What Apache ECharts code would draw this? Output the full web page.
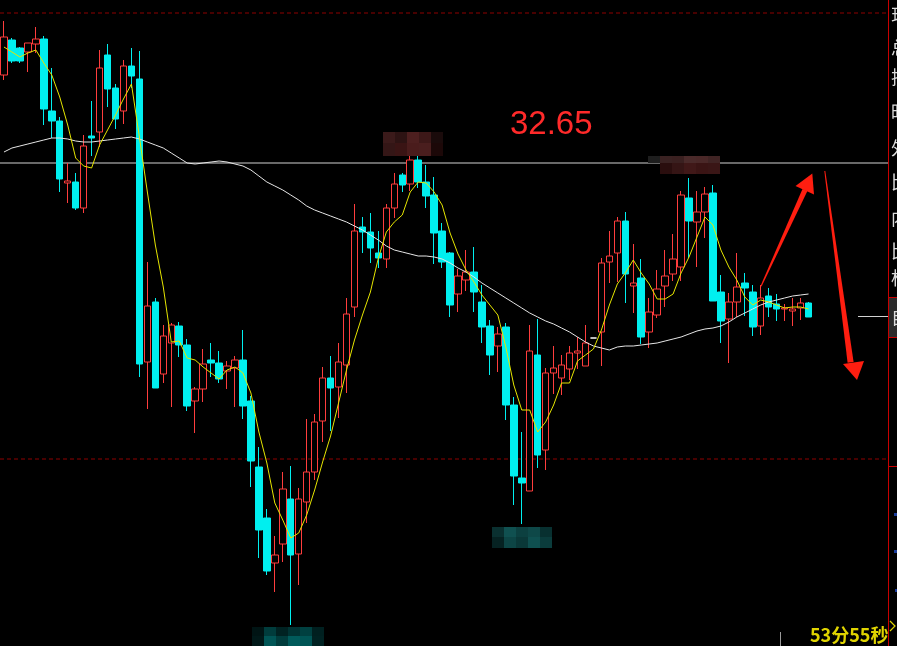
<!DOCTYPE html>
<html>
<head>
<meta charset="utf-8">
<style>
  html, body { margin: 0; padding: 0; background: #000; }
  #chart { width: 897px; height: 646px; }
</style>
<script src="https://cdn.jsdelivr.net/npm/echarts@6/dist/echarts.min.js"></script>
</head>
<body>
<div id="chart"></div>
<script>
// K-line bars: [open, close, low, high]
const candles = [
  [33.53,33.91,33.48,34.07],[33.88,33.67,33.65,33.90],[33.80,33.67,33.65,33.81],[33.76,33.85,33.56,33.85],
  [33.84,33.89,33.75,34.01],[33.89,33.19,33.03,33.92],[33.17,33.07,32.90,33.60],[33.07,32.49,32.36,33.11],
  [32.45,32.47,32.25,32.65],[32.46,32.20,32.18,32.55],[32.20,32.82,32.15,32.93],[32.92,32.90,32.72,33.27],
  [32.96,33.60,32.81,33.78],[33.73,33.39,33.21,33.84],[33.40,33.09,32.99,33.44],[33.17,33.62,33.04,33.68],
  [33.62,33.52,33.40,33.80],[33.49,30.64,30.51,33.77],[30.66,31.22,30.19,31.66],[31.26,30.40,30.40,31.30],
  [30.54,30.92,30.45,31.03],[30.85,31.03,30.21,31.05],[31.02,30.83,30.71,31.06],[30.83,30.22,30.17,30.89],
  [30.27,30.39,29.95,30.41],[30.39,30.64,30.26,30.79],[30.68,30.65,30.51,30.85],[30.65,30.49,30.45,30.77],
  [30.57,30.62,30.39,30.67],[30.60,30.68,30.21,30.72],[30.68,30.22,30.09,30.98],[30.27,29.67,29.41,30.32],
  [29.61,28.98,28.70,29.81],[29.10,28.57,28.53,29.19],[28.65,28.73,28.36,28.92],[28.84,29.39,28.66,29.56],
  [29.29,28.73,28.03,29.62],[28.74,29.29,28.43,29.40],[29.26,29.56,29.05,30.09],[29.56,30.06,29.48,30.14],
  [30.07,30.50,29.86,30.61],[30.50,30.40,29.97,30.72],[30.41,30.66,30.10,30.85],[30.63,31.14,30.35,31.30],
  [31.21,31.97,31.11,32.24],[32.01,31.96,31.75,32.11],[31.96,31.80,31.65,32.15],[31.75,31.70,31.60,31.97],
  [31.69,32.20,31.60,32.24],[32.20,32.44,32.10,32.55],[32.53,32.43,32.36,32.55],[32.44,32.68,32.37,32.72],
  [32.68,32.46,32.40,32.72],[32.46,32.32,32.20,32.63],[32.33,31.95,31.64,32.51],[31.97,31.66,31.60,32.05],
  [31.75,31.23,31.11,31.76],[31.34,31.52,31.16,31.59],[31.48,31.56,31.37,31.78],[31.56,31.36,31.16,31.81],
  [31.26,31.01,30.85,31.43],[31.02,30.73,30.53,31.08],[30.82,30.94,30.56,31.01],[31.01,30.23,30.08,31.05],
  [30.23,29.52,29.23,30.31],[29.50,29.45,29.04,29.96],[29.37,30.77,29.37,31.03],[30.73,29.73,29.60,31.09],
  [29.78,30.55,29.58,30.60],[30.55,30.60,30.34,30.82],[30.50,30.63,30.33,30.73],[30.59,30.75,30.48,30.82],
  [30.75,30.77,30.59,30.91],[30.62,30.85,30.62,31.03],[30.90,30.90,30.90,30.90],[30.96,31.65,30.62,31.70],
  [31.66,31.72,31.45,31.97],[31.75,32.07,31.46,32.11],[32.07,31.54,31.25,32.16],[31.42,31.45,31.15,31.84],
  [31.50,30.91,30.84,31.69],[30.96,31.16,30.80,31.30],[31.13,31.39,31.10,31.58],[31.42,31.52,31.21,31.78],
  [31.54,31.69,31.47,31.94],[31.61,32.33,31.47,32.37],[32.30,32.07,31.70,32.50],[32.06,32.16,31.61,32.37],
  [32.16,32.34,31.90,32.41],[32.35,31.27,31.27,32.43],[31.36,31.07,30.85,31.53],[31.09,31.26,30.65,31.35],
  [31.26,31.41,31.11,31.75],[31.45,31.40,31.12,31.55],[31.36,31.01,30.92,31.43],[31.02,31.30,30.93,31.43],
  [31.32,31.21,31.11,31.40],[31.24,31.19,31.07,31.34],[31.19,31.20,31.07,31.24],[31.17,31.19,31.02,31.30],
  [31.20,31.25,31.08,31.30],[31.25,31.11,31.11,31.26]
];

// short moving average (yellow)
const maShort = [
  33.81,33.76,33.71,33.75,33.78,33.65,33.53,33.31,33.03,32.70,32.62,32.60,32.83,32.98,33.13,33.29,
  33.44,32.91,32.36,31.83,31.41,30.86,30.87,30.70,30.68,30.61,30.55,30.49,30.58,30.61,30.55,30.35,
  29.96,29.65,29.25,29.08,28.90,28.95,29.13,29.38,29.66,29.92,30.25,30.58,30.88,31.13,31.36,31.70,
  31.96,32.06,32.13,32.36,32.46,32.45,32.36,32.23,31.95,31.74,31.58,31.46,31.33,31.23,31.13,30.81,
  30.43,30.18,30.18,29.96,30.06,30.23,30.45,30.45,30.67,30.73,30.79,30.98,31.23,31.44,31.55,31.68,
  31.55,31.44,31.29,31.29,31.34,31.55,31.71,31.91,32.11,32.03,31.78,31.61,31.48,31.31,31.23,31.28,
  31.26,31.23,31.20,31.21,31.21,31.19
];

// long moving average (white)
const maLong = [
  32.76,32.80,32.82,32.84,32.86,32.88,32.90,32.90,32.89,32.87,32.86,32.86,32.87,32.88,32.89,32.90,
  32.91,32.89,32.86,32.83,32.80,32.75,32.70,32.65,32.64,32.65,32.66,32.67,32.66,32.64,32.62,32.58,
  32.52,32.46,32.42,32.38,32.33,32.28,32.22,32.18,32.15,32.12,32.09,32.06,32.02,31.98,31.93,31.88,
  31.82,31.78,31.76,31.74,31.72,31.72,31.71,31.69,31.65,31.60,31.56,31.51,31.45,31.40,31.35,31.30,
  31.25,31.20,31.15,31.11,31.07,31.04,31.00,30.96,30.91,30.86,30.82,30.80,30.78,30.81,30.82,30.82,
  30.83,30.84,30.85,30.87,30.89,30.91,30.94,30.97,30.99,31.00,31.02,31.06,31.11,31.15,31.19,31.23,
  31.26,31.28,31.30,31.32,31.33,31.34
];

const categories = candles.map((_, i) => String(i + 1));

const refPrice = 32.65;            // highlighted level
const gridLevels = [34.15, 29.69]; // dashed reference levels
const lastPrice = 31.12;
const priceMin = 27.82;
const priceMax = 34.28;

const panelLabels = ['现', '总', '振', '昨', '外', '比', '内', '比', '标'];
const panelLabelY = [15, 48, 77, 112, 148, 182, 218, 251, 278];
const timerText = '53分55秒';

const UP = '#ff3d3d';
const DOWN = '#00efef';

const chart = echarts.init(document.getElementById('chart'), null, { renderer: 'canvas' });

function levelSeries(price, style) {
  return {
    type: 'line',
    xAxisIndex: 1,
    yAxisIndex: 1,
    data: [[0, price], [1, price]],
    symbol: 'none',
    silent: true,
    animation: false,
    lineStyle: style,
    z: 1
  };
}

// pixelated cover blocks
function mosaic(x0, y0, cw, rowH, rows) {
  const out = [];
  let y = y0;
  rows.forEach((row, r) => {
    row.forEach((c, i) => {
      if (!c) return;
      out.push({
        type: 'rect',
        shape: { x: x0 + i * cw, y: y, width: cw, height: rowH[r] },
        style: { fill: c },
        z: 100
      });
    });
    y += rowH[r];
  });
  return out;
}

chart.setOption({
  backgroundColor: '#000',
  animation: false,
  grid: [
    { left: -3.5, top: 0, width: 816, height: 646, show: false },
    { left: 0, top: 0, width: 888, height: 646, show: false }
  ],
  xAxis: [
    { type: 'category', gridIndex: 0, data: categories, boundaryGap: true, show: false },
    { type: 'value', gridIndex: 1, min: 0, max: 1, show: false }
  ],
  yAxis: [
    { type: 'value', gridIndex: 0, min: priceMin, max: priceMax, show: false, splitLine: { show: false } },
    { type: 'value', gridIndex: 1, min: priceMin, max: priceMax, show: false, splitLine: { show: false } }
  ],
  series: [
    levelSeries(gridLevels[0], { color: '#8e0000', width: 1, type: [4, 3] }),
    levelSeries(gridLevels[1], { color: '#8e0000', width: 1, type: [4, 3] }),
    levelSeries(refPrice, { color: '#d2d2d2', width: 1 }),
    {
      type: 'candlestick',
      xAxisIndex: 0,
      yAxisIndex: 0,
      data: candles,
      barWidth: 7,
      z: 3,
      itemStyle: {
        color: '#000',
        borderColor: UP,
        color0: DOWN,
        borderColor0: DOWN,
        borderColorDoji: '#ffffff',
        borderWidth: 1
      }
    },
    {
      type: 'line',
      xAxisIndex: 0,
      yAxisIndex: 0,
      data: maLong,
      symbol: 'none',
      z: 4,
      lineStyle: { color: '#e6e6e6', width: 1 }
    },
    {
      type: 'line',
      xAxisIndex: 0,
      yAxisIndex: 0,
      data: maShort,
      symbol: 'none',
      z: 5,
      lineStyle: { color: '#e6e600', width: 1 }
    }
  ]
});

const lastY = Math.round(chart.convertToPixel({ yAxisIndex: 1 }, lastPrice)) + 0.5;

const graphics = [];

// right info panel
graphics.push({ type: 'rect', shape: { x: 889, y: 298, width: 8, height: 39 }, style: { fill: '#2b2b2b' }, z: 50 });
graphics.push({ type: 'line', shape: { x1: 888.5, y1: 0, x2: 888.5, y2: 646 }, style: { stroke: '#c80000', lineWidth: 1 }, z: 51 });
[297.5, 337.5, 466.5].forEach(y => {
  graphics.push({ type: 'line', shape: { x1: 888, y1: y, x2: 897, y2: y }, style: { stroke: '#c80000', lineWidth: 1 }, z: 51 });
});
panelLabels.forEach((t, i) => {
  graphics.push({
    type: 'text', x: 891, y: panelLabelY[i], z: 52,
    style: { text: t, fill: '#dcdcdc', font: '18px "Noto Sans CJK SC"', verticalAlign: 'middle', align: 'left' }
  });
});
graphics.push({
  type: 'text', x: 891, y: 317, z: 52,
  style: { text: '自', fill: '#dcdcdc', font: '18px "Noto Sans CJK SC"', verticalAlign: 'middle', align: 'left' }
});
graphics.push({ type: 'line', shape: { x1: 858, y1: lastY, x2: 888, y2: lastY }, style: { stroke: '#d2d2d2', lineWidth: 1 }, z: 51 });

// small blue dots in the panel
[[894, 513], [894, 550], [895, 589]].forEach(p => {
  graphics.push({ type: 'rect', shape: { x: p[0], y: p[1], width: 3, height: 3 }, style: { fill: '#1a3c9a' }, z: 52 });
});

// countdown and scroll mark
graphics.push({
  type: 'text', x: 810, y: 635, z: 52,
  style: { text: timerText, fill: '#e0d400', font: 'bold 18px "Noto Sans CJK SC"', verticalAlign: 'middle', align: 'left' }
});
graphics.push({
  type: 'polyline', shape: { points: [[890, 621], [895, 626], [890, 631]] },
  style: { stroke: '#e0d400', lineWidth: 1.2, fill: null }, z: 52
});
graphics.push({ type: 'line', shape: { x1: 780.5, y1: 632, x2: 780.5, y2: 646 }, style: { stroke: '#9a9a9a', lineWidth: 1 }, z: 52 });

// price annotation
graphics.push({
  type: 'text', x: 510, y: 125, z: 60,
  style: { text: '32.65', fill: '#ff2a2a', font: '33px "Liberation Sans", Arial, sans-serif', verticalAlign: 'middle', align: 'left' }
});

// hand-drawn arrows
const ARROW = '#ff1e10';
graphics.push({ type: 'polygon', shape: { points: [[760.5, 286], [761.6, 286.6], [807.4, 191], [802.6, 188.8]] }, style: { fill: ARROW }, z: 60 });
graphics.push({ type: 'polygon', shape: { points: [[812.3, 173.5], [795.5, 186], [814, 194.5]] }, style: { fill: ARROW }, z: 60 });
graphics.push({ type: 'polygon', shape: { points: [[824.3, 171], [825.3, 171], [853.6, 362], [847.6, 362.8]] }, style: { fill: ARROW }, z: 60 });
graphics.push({ type: 'polygon', shape: { points: [[843, 364], [864, 361], [857, 380]] }, style: { fill: ARROW }, z: 60 });

// covered value tags
graphics.push(...mosaic(383, 132, 12, [11, 13], [
  ['#3b1a1a', '#2d1313', '#4d1f1f', '#3d1818', '#1a0b0b'],
  ['#341616', '#3a1414', '#4a1c1c', '#4a1e1e', '#1c0808']
]));
graphics.push(...mosaic(648, 156, 12, [7, 11], [
  ['#1e1e1e', '#3a2222', '#3a2020', '#4a2a2a', '#4a2828', '#402424'],
  [null, '#2a0e0e', '#351515', '#401818', '#3a1414', '#3a1616']
]));
graphics.push(...mosaic(492, 527, 12, [10, 11], [
  ['#0a3030', '#105050', '#0c4040', '#0e4848', '#083030'],
  ['#062222', '#0d4545', '#0a3838', '#0f5050', '#0b3c3c']
]));
graphics.push(...mosaic(252, 627, 12, [9, 10], [
  ['#001414', '#003c3c', '#002222', '#003333', '#004040', '#002020'],
  ['#001818', '#005555', '#003c3c', '#005a5a', '#005555', '#002222']
]));

chart.setOption({ graphic: graphics });
</script>
</body>
</html>
